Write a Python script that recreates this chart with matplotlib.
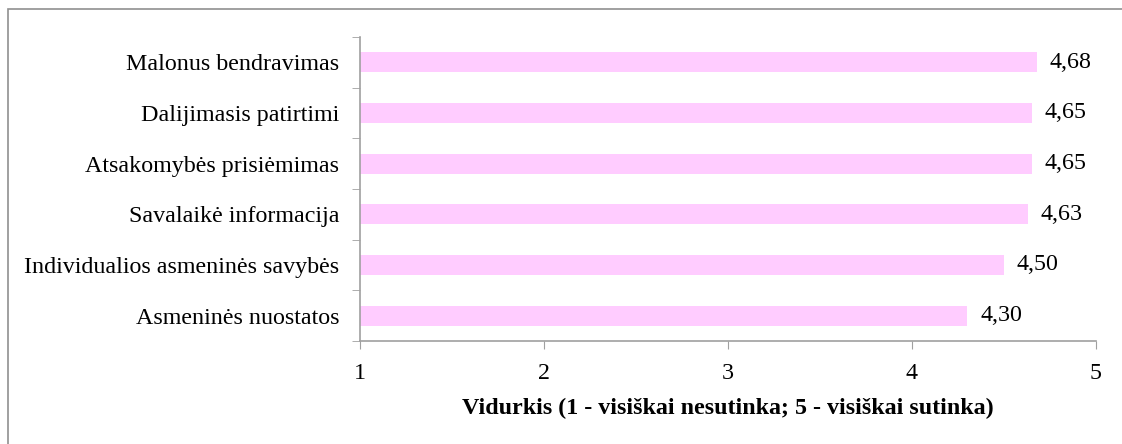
import matplotlib.pyplot as plt
from matplotlib.patches import Rectangle

plt.rcParams['font.family'] = ['Liberation Serif', 'DejaVu Serif']

## survey items and their mean scores (bottom to top)
categories = ['Asmeninės nuostatos', 'Individualios asmeninės savybės',
              'Savalaikė informacija', 'Atsakomybės prisiėmimas',
              'Dalijimasis patirtimi', 'Malonus bendravimas']
values = [4.30, 4.50, 4.63, 4.65, 4.65, 4.68]
xticks = [1, 2, 3, 4, 5]

fs = 17.3

fig = plt.figure(figsize=(11.22, 4.44), dpi=100)
ax = fig.add_axes([0.3209, 0.232, 0.6559, 0.6847])

ypos = range(len(categories))
ax.barh(ypos, [v - 1 for v in values], left=1, height=0.4, color='#FFCCFF')

for y, v in zip(ypos, values):
    ax.text(v + 0.07, y, f'{v:.2f}'.replace('.', ','), va='center', ha='left', fontsize=fs)

ax.set_xlim(1, 5)
ax.set_ylim(-0.5, len(categories) - 0.5)
ax.set_xticks(xticks)
ax.set_xticklabels([str(t) for t in xticks], fontsize=fs)
ax.set_yticks(ypos)
ax.set_yticklabels(categories, fontsize=fs)
ax.tick_params(axis='y', length=0, pad=15)
## tick marks sit between categories
ax.set_yticks([i + 0.5 for i in range(-1, len(categories))], minor=True)
ax.tick_params(axis='y', which='minor', length=6, color='#A0A0A0')
ax.tick_params(axis='x', length=6, color='#A0A0A0', pad=10)

for s in ['top', 'right']:
    ax.spines[s].set_visible(False)
for s in ['left', 'bottom']:
    ax.spines[s].set_color('#A0A0A0')
    ax.spines[s].set_linewidth(1.2)

ax.set_xlabel('Vidurkis (1 - visiškai nesutinka; 5 - visiškai sutinka)',
              fontsize=fs, fontweight='bold', labelpad=10)

## outer frame of the chart area
fig.patches.append(Rectangle((8 / 1122, -0.1), 1.2, 1 - 9 / 444 + 0.1,
                             transform=fig.transFigure, fill=False,
                             edgecolor='#909090', linewidth=1.2))

fig.savefig('out.png', dpi=100)
